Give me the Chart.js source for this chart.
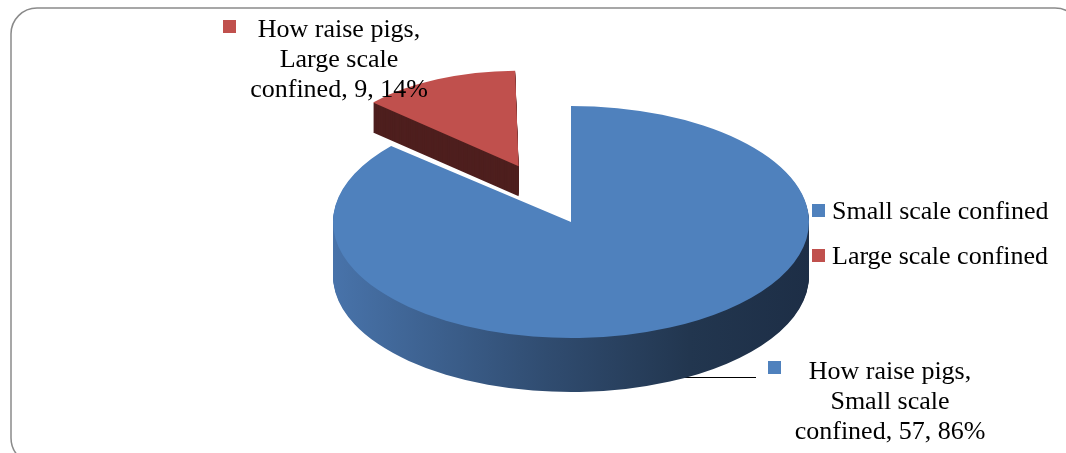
<!DOCTYPE html>
<html lang="en">
<head>
    <meta charset="UTF-8">
    <title>How raise pigs</title>
    <script src="https://cdn.jsdelivr.net/npm/chart.js"></script>
    <style>
        body { margin: 0; padding: 0; background: #fff; }
        canvas { display: block; }
    </style>
</head>
<body>
    <canvas id="pie" width="1066" height="453"></canvas>
    <script>
        // data
        const seriesName = 'How raise pigs';
        const categories = ['Small scale confined', 'Large scale confined'];
        const counts = [57, 9];

        const topColors = ['#4F81BD', '#C0504D'];
        const FONT = '26px "Liberation Serif", "Times New Roman", serif';
        const TILT = 116 / 238;   // squash the pie into an ellipse
        const DEPTH = [54, 30];   // side height per slice (far slice looks thinner)
        const SHRINK = [1, 0.73]; // far slice drawn smaller, fakes perspective
        const PUSH = [0, 36];     // extra explode distance on top of the offset option

        const total = counts.reduce((a, b) => a + b, 0);
        const pct = counts.map(v => Math.round(v / total * 100));

        function labelLines(i) {
            const words = categories[i].split(' ');
            return [
                seriesName + ',',
                words.slice(0, 2).join(' '),
                words.slice(2).join(' ') + ', ' + counts[i] + ', ' + pct[i] + '%'
            ];
        }

        // frame around the chart
        const framePlugin = {
            id: 'frame',
            beforeDraw(chart) {
                const ctx = chart.ctx;
                ctx.save();
                ctx.strokeStyle = '#8a8a8a';
                ctx.lineWidth = 1.5;
                ctx.beginPath();
                ctx.roundRect(11, 8, 1070, 456, 26);
                ctx.stroke();
                ctx.restore();
            }
        };

        // fake 3d: squash vertically and extrude each slice downwards
        const pie3d = {
            id: 'pie3d',
            beforeDatasetsDraw(chart) {
                const ctx = chart.ctx;
                const arcs = chart.getDatasetMeta(0).data;
                const cx = arcs[0].x, cy = arcs[0].y, r = arcs[0].outerRadius;

                // leader line to the small-scale label (sits behind the pie)
                ctx.save();
                ctx.strokeStyle = '#000';
                ctx.lineWidth = 1.2;
                ctx.beginPath();
                ctx.moveTo(650, 377.5);
                ctx.lineTo(756, 377.5);
                ctx.stroke();
                ctx.restore();

                const grad = ctx.createLinearGradient(cx - r, 0, cx + r, 0);
                grad.addColorStop(0, '#4873aa');
                grad.addColorStop(0.45, '#304c70');
                grad.addColorStop(0.75, '#22364f');
                grad.addColorStop(1, '#1d2e46');
                const sideColors = [grad, '#4e1f1e'];

                function paint(arc, i, dy, color) {
                    const orig = arc.options;
                    const origR = arc.outerRadius;
                    const mid = (arc.startAngle + arc.endAngle) / 2;
                    arc.options = Object.assign({}, orig, { backgroundColor: color, borderWidth: 0 });
                    arc.outerRadius = origR * SHRINK[i];
                    ctx.save();
                    ctx.translate(0, cy + dy);
                    ctx.scale(1, TILT);
                    ctx.translate(Math.cos(mid) * PUSH[i], Math.sin(mid) * PUSH[i] - cy);
                    arc.draw(ctx);
                    ctx.restore();
                    arc.options = orig;
                    arc.outerRadius = origR;
                }

                // far (exploded) slice first, then the big one in front
                [1, 0].forEach(i => {
                    const arc = arcs[i];
                    for (let dy = DEPTH[i]; dy >= 1; dy--) paint(arc, i, dy, sideColors[i]);
                    paint(arc, i, 0, topColors[i]);
                });
                return false;
            },
            afterDraw(chart) {
                const ctx = chart.ctx;
                ctx.save();
                ctx.font = FONT;
                ctx.fillStyle = '#000';
                ctx.textBaseline = 'alphabetic';

                // legend
                const legendY = [219, 264];
                categories.forEach((c, i) => {
                    ctx.fillStyle = topColors[i];
                    ctx.fillRect(812, legendY[i] - 15, 13, 13);
                    ctx.fillStyle = '#000';
                    ctx.textAlign = 'left';
                    ctx.fillText(c, 832, legendY[i]);
                });

                // data labels
                const spots = [
                    { x: 890, y: 379, mx: 768, my: 361 },
                    { x: 339, y: 37, mx: 223, my: 20 }
                ];
                spots.forEach((p, i) => {
                    ctx.fillStyle = topColors[i];
                    ctx.fillRect(p.mx, p.my, 13, 13);
                    ctx.fillStyle = '#000';
                    ctx.textAlign = 'center';
                    labelLines(i).forEach((t, k) => ctx.fillText(t, p.x, p.y + k * 30));
                });
                ctx.restore();
            }
        };

        new Chart(document.getElementById('pie'), {
            type: 'pie',
            data: {
                labels: categories,
                datasets: [{
                    label: seriesName,
                    data: counts,
                    backgroundColor: topColors,
                    borderWidth: 0,
                    offset: [0, 360],
                    clip: false
                }]
            },
            options: {
                responsive: false,
                animation: false,
                radius: 238,
                layout: { padding: { left: 76, right: 0, top: 0, bottom: 9 } },
                plugins: {
                    legend: { display: false },
                    tooltip: { enabled: false }
                }
            },
            plugins: [framePlugin, pie3d]
        });
    </script>
</body>
</html>
